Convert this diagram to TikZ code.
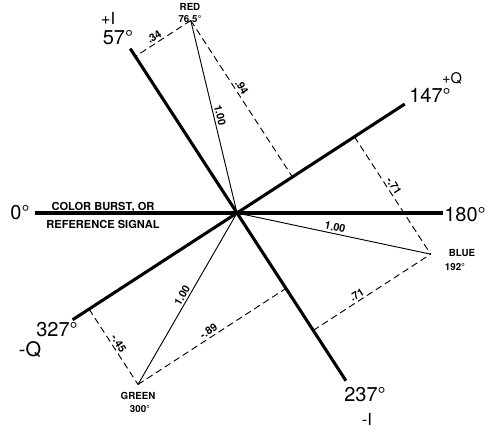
\documentclass[tikz,border=0pt]{standalone}
\usepackage{fontspec}
\setmainfont{TeX Gyre Heros}
\usetikzlibrary{calc}
\tikzset{
	axis/.style={line width=2.3pt},
	vec/.style={line width=.7pt},
	proj/.style={line width=.7pt,dash pattern=on 5pt off 3pt},
	big/.style={font=\fontsize{15}{15}\selectfont,inner sep=0pt},
	mid/.style={font=\fontsize{12.5}{12.5}\selectfont,inner sep=0pt},
	small/.style={font=\bfseries\fontsize{7.3}{7.3}\selectfont,inner sep=0pt},
	val/.style={font=\bfseries\fontsize{8}{8}\selectfont,inner sep=1.5pt,sloped,above}
}
\begin{document}
\begin{tikzpicture}[x=.75pt,y=.75pt]
	\def\R{198} % length of a unit vector
	\useasboundingbox (-237,-235) rectangle (255,213);
	\coordinate (O) at (0,0);
	% axes, angle t drawn at polar 180-t
	\coordinate (pI) at (123:196);
	\coordinate (mI) at (-57:200);
	\coordinate (pQ) at (33:200);
	\coordinate (mQ) at (-147:196);
	\coordinate (ref0) at (-202,0);
	\coordinate (ref180) at (206,0);
	\coordinate (red) at (103.5:\R);
	\coordinate (blue) at (-12:\R);
	\coordinate (green) at (-120:\R);
	% feet of the projections
	\coordinate (rI) at ($(O)!(red)!(pI)$);
	\coordinate (rQ) at ($(O)!(red)!(pQ)$);
	\coordinate (bQ) at ($(O)!(blue)!(pQ)$);
	\coordinate (bI) at ($(O)!(blue)!(mI)$);
	\coordinate (gQ) at ($(O)!(green)!(mQ)$);
	\coordinate (gI) at ($(O)!(green)!(mI)$);
	\draw[axis] (ref0) -- (ref180);
	\draw[axis] (pI) -- (mI);
	\draw[axis] (pQ) -- (mQ);
	\draw[vec] (red) -- (O) node[val,midway]{1.00};
	\draw[vec] (O) -- (blue) node[val,midway]{1.00};
	\draw[vec] (green) -- (O) node[val,midway]{1.00};
	\draw[proj] (red) -- (rI) node[val,pos=.6]{.34};
	\draw[proj] (red) -- (rQ) node[val,pos=.45]{.94};
	\draw[proj] (bQ) -- (blue) node[val,pos=.45]{-.71};
	\draw[proj] (bI) -- (blue) node[val,pos=.4]{.71};
	\draw[proj] (gQ) -- (green) node[val,midway]{-.45};
	\draw[proj] (green) -- (gI) node[val,midway]{-.89};
	% labels
	\node[mid] (tpI) at (-129,195) {+I};
	\node[big] (t57) at (-119,175) {57°};
	\node[small] (tred) at (-47,206) {RED};
	\node[small] (t765) at (-47,194) {76.5°};
	\node[font=\fontsize{11}{11}\selectfont,inner sep=0pt] (tpQ) at (215,135) {+Q};
	\node[big] (t147) at (193,118) {147°};
	\node[big] (t0) at (-217,0) {0°};
	\node[big] (t180) at (228,-2) {180°};
	\node[small,font=\bfseries\fontsize{8.3}{8.3}\selectfont] (tburst) at (-134,6) {COLOR BURST, OR};
	\node[small,font=\bfseries\fontsize{8.3}{8.3}\selectfont] (tsig) at (-134,-11) {REFERENCE SIGNAL};
	\node[small] (tblue) at (225,-40) {BLUE};
	\node[small] (t192) at (218,-54) {192°};
	\node[big] (t327) at (-180,-117) {327°};
	\node[big] (tmQ) at (-207,-137) {-Q};
	\node[small] (tgreen) at (-99,-183) {GREEN};
	\node[small] (t300) at (-97,-196) {300°};
	\node[big] (t237) at (128,-182) {237°};
	\node[mid] (tmI) at (130,-206) {-I};
\end{tikzpicture}
\end{document}
